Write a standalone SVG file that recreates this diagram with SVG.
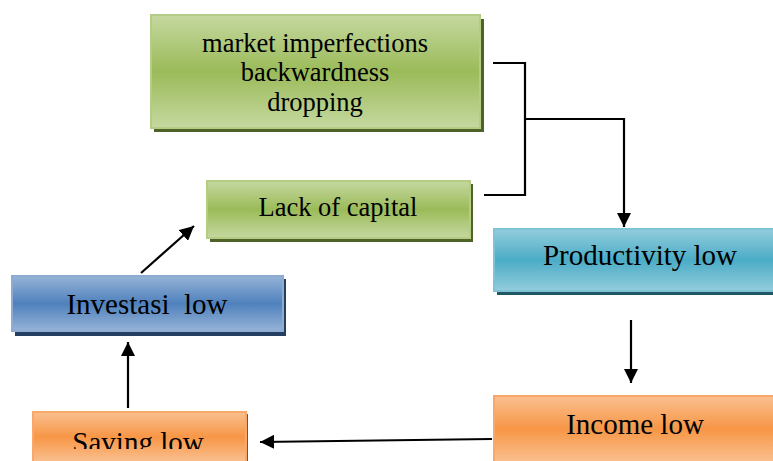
<svg xmlns="http://www.w3.org/2000/svg" width="773" height="461" viewBox="0 0 773 461">
<defs>
<linearGradient id="gGreen" x1="0" y1="0" x2="0" y2="1"><stop offset="0" stop-color="#c5d8a0"/><stop offset="0.5" stop-color="#9bbb59"/><stop offset="1" stop-color="#c5d8a0"/></linearGradient>
<linearGradient id="gBlue" x1="0" y1="0" x2="0" y2="1"><stop offset="0" stop-color="#95b3d7"/><stop offset="0.5" stop-color="#4f81bd"/><stop offset="1" stop-color="#95b3d7"/></linearGradient>
<linearGradient id="gTeal" x1="0" y1="0" x2="0" y2="1"><stop offset="0" stop-color="#93cddd"/><stop offset="0.5" stop-color="#4bacc6"/><stop offset="1" stop-color="#93cddd"/></linearGradient>
<linearGradient id="gOrange" x1="0" y1="0" x2="0" y2="1"><stop offset="0" stop-color="#fac090"/><stop offset="0.5" stop-color="#f79646"/><stop offset="1" stop-color="#fac090"/></linearGradient>
<marker id="arr" viewBox="0 0 10 10" refX="10" refY="5" markerWidth="6.5" markerHeight="6.5" orient="auto" markerUnits="strokeWidth"><path d="M0,0 L10,5 L0,10 Z" fill="#000"/></marker>
<clipPath id="clipSave"><rect x="0" y="0" width="773" height="449"/></clipPath>
</defs>
<style>
text{font-family:"Liberation Serif","Times New Roman",serif;fill:#000;text-anchor:middle}
.t22{font-size:26.5px}
.t24{font-size:29px}
.green{fill:url(#gGreen);stroke:#b5cc84;stroke-width:2}
.blue{fill:url(#gBlue);stroke:#8fabd2;stroke-width:2}
.teal{fill:url(#gTeal);stroke:#7ec3d6;stroke-width:2}
.orange{fill:url(#gOrange);stroke:#f8a86a;stroke-width:2}
.conn{fill:none;stroke:#000;stroke-width:2.2}
</style>
<g id="n-market">
<rect x="154" y="19" width="330" height="113" fill="#4f6228"/>
<rect x="151" y="15" width="329" height="113" class="green"/>
<text class="t22" x="315" y="52">market imperfections</text>
<text class="t22" x="315" y="81">backwardness</text>
<text class="t22" x="315" y="111">dropping</text>
</g>
<g id="n-lack">
<rect x="210" y="184" width="263" height="58" fill="#4f6228"/>
<rect x="207" y="181" width="263" height="57" class="green"/>
<text class="t22" x="338" y="216">Lack of capital</text>
</g>
<g id="n-prod">
<rect x="497" y="232" width="280" height="63" fill="#205867"/>
<rect x="494" y="229" width="282" height="62" class="teal"/>
<text class="t24" x="640" y="265">Productivity low</text>
</g>
<g id="n-income">
<rect x="494" y="396" width="282" height="66" class="orange"/>
<text class="t24" x="635" y="434">Income low</text>
</g>
<g id="n-saving">
<rect x="246" y="414" width="2" height="48" fill="#984807"/>
<rect x="33" y="412" width="213" height="50" class="orange"/>
<text class="t24" x="138" y="452" clip-path="url(#clipSave)">Saving low</text>
</g>
<g id="n-invest">
<rect x="15" y="279" width="271" height="57" fill="#243f60"/>
<rect x="12" y="276" width="271" height="55" class="blue"/>
<text class="t24" x="147" y="314" xml:space="preserve">Investasi  low</text>
</g>
<g id="connectors">
<path class="conn" d="M493,63 H525 V195 H484"/>
<path class="conn" d="M525,119 H624 V227" marker-end="url(#arr)"/>
<path class="conn" d="M631,320 V383" marker-end="url(#arr)"/>
<path class="conn" d="M492,439 L260,442" marker-end="url(#arr)"/>
<path class="conn" d="M128,408 V342" marker-end="url(#arr)"/>
<path class="conn" d="M141,273 L194,226" marker-end="url(#arr)"/>
</g>
</svg>
